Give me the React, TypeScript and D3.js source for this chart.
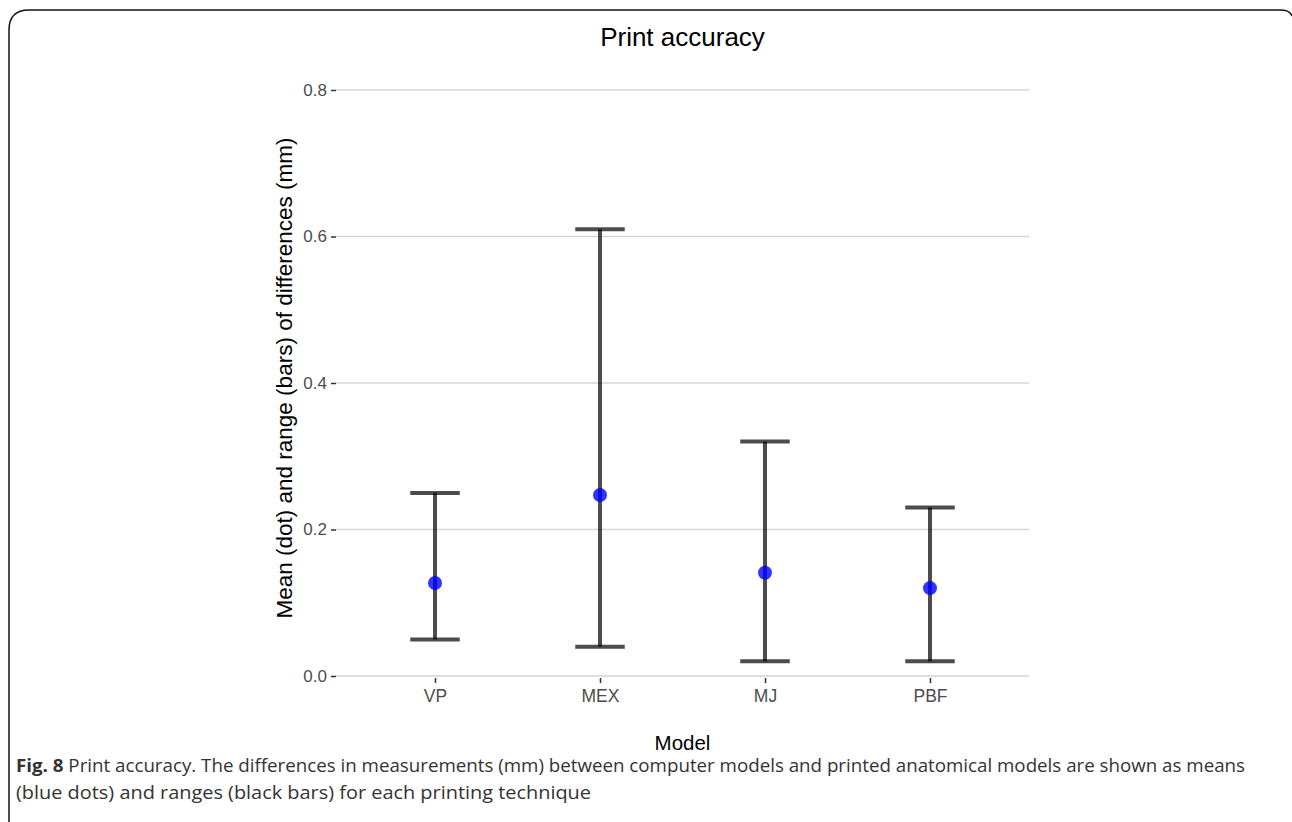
import React, { useEffect, useRef } from 'react';
import * as d3 from 'd3';

const models = ['VP', 'MEX', 'MJ', 'PBF'];
const means = [0.127, 0.247, 0.141, 0.12];
const lows = [0.05, 0.04, 0.02, 0.02];
const highs = [0.25, 0.61, 0.32, 0.23];
const yTicks = [0.0, 0.2, 0.4, 0.6, 0.8];

const W = 1292;
const H = 822;

const App = () => {
  const svgRef = useRef<SVGSVGElement>(null);

  useEffect(() => {
    if (!svgRef.current) return;
    const svg = d3.select(svgRef.current);
    svg.selectAll('*').remove();

    // figure frame (open at the bottom)
    svg.append('path')
      .attr('d', `M9,${H} L9,30 Q9,10 29,10 L1280,10 Q1290,10 1292,16`)
      .attr('fill', 'none')
      .attr('stroke', '#111')
      .attr('stroke-width', 1.5);

    const left = 336;
    const right = 1029;
    const top = 90;
    const bottom = 676;

    // discrete scale, ggplot style expansion of 0.6
    const xi = d3.scaleLinear().domain([0.4, models.length + 0.6]).range([left, right]);
    const x = (m: string) => xi(models.indexOf(m) + 1);
    const y = d3.scaleLinear().domain([0, 0.8]).range([bottom, top]);

    const font = '"Liberation Sans", Arial, Helvetica, sans-serif';

    // grid
    svg.append('g')
      .selectAll('line')
      .data(yTicks)
      .enter()
      .append('line')
      .attr('x1', left)
      .attr('x2', right)
      .attr('y1', (d) => y(d))
      .attr('y2', (d) => y(d))
      .attr('stroke', '#d6d6d6')
      .attr('stroke-width', 1.6);

    // y axis ticks
    const yAxis = d3.axisLeft(y)
      .tickValues(yTicks)
      .tickSize(5)
      .tickPadding(4)
      .tickFormat(d3.format('.1f'));
    const yg = svg.append('g').attr('transform', `translate(${left},0)`).call(yAxis);
    yg.select('.domain').remove();
    yg.attr('font-size', 17).attr('font-family', font);
    yg.selectAll('line').attr('stroke', '#333').attr('stroke-width', 1.5);
    yg.selectAll('text').attr('fill', '#4d4d4d');

    // x axis ticks
    const xAxis = d3.axisBottom(d3.scalePoint().domain(models).range([x(models[0]), x(models[models.length - 1])]))
      .tickSize(5)
      .tickPadding(7);
    const xg = svg.append('g').attr('transform', `translate(0,${bottom + 2})`).call(xAxis);
    xg.select('.domain').remove();
    xg.attr('font-size', 17.5).attr('font-family', font);
    xg.selectAll('line').attr('stroke', '#333').attr('stroke-width', 1.5);
    xg.selectAll('text').attr('fill', '#4d4d4d');

    const capHalf = (xi(1.15) - xi(1));
    const barColor = 'rgba(0,0,0,0.7)';

    const bars = svg.append('g')
      .selectAll('g')
      .data(models)
      .enter()
      .append('g');

    bars.append('line')
      .attr('x1', (d) => x(d))
      .attr('x2', (d) => x(d))
      .attr('y1', (d, i) => y(lows[i]))
      .attr('y2', (d, i) => y(highs[i]))
      .attr('stroke', barColor)
      .attr('stroke-width', 4);

    bars.append('line')
      .attr('x1', (d) => x(d) - capHalf)
      .attr('x2', (d) => x(d) + capHalf)
      .attr('y1', (d, i) => y(highs[i]))
      .attr('y2', (d, i) => y(highs[i]))
      .attr('stroke', barColor)
      .attr('stroke-width', 4);

    bars.append('line')
      .attr('x1', (d) => x(d) - capHalf)
      .attr('x2', (d) => x(d) + capHalf)
      .attr('y1', (d, i) => y(lows[i]))
      .attr('y2', (d, i) => y(lows[i]))
      .attr('stroke', barColor)
      .attr('stroke-width', 4);

    bars.append('circle')
      .attr('cx', (d) => x(d))
      .attr('cy', (d, i) => y(means[i]))
      .attr('r', 7)
      .attr('fill', 'rgba(0,0,255,0.8)');

    // titles
    svg.append('text')
      .attr('x', (left + right) / 2)
      .attr('y', 46)
      .attr('text-anchor', 'middle')
      .attr('font-family', font)
      .attr('font-size', 26)
      .attr('fill', '#000')
      .text('Print accuracy');

    svg.append('text')
      .attr('x', (left + right) / 2)
      .attr('y', 750)
      .attr('text-anchor', 'middle')
      .attr('font-family', font)
      .attr('font-size', 20.5)
      .attr('fill', '#000')
      .text('Model');

    svg.append('text')
      .attr('transform', `translate(292,${(top + bottom) / 2 - 5}) rotate(-90)`)
      .attr('text-anchor', 'middle')
      .attr('font-family', font)
      .attr('font-size', 22.5)
      .attr('fill', '#000')
      .text('Mean (dot) and range (bars) of differences (mm)');

    // caption
    const capFont = '"Open Sans", "Noto Sans", sans-serif';
    const line1 = svg.append('text')
      .attr('x', 16)
      .attr('y', 772)
      .attr('font-family', capFont)
      .attr('font-size', 18.5)
      .attr('fill', '#333')
      .attr('textLength', 1229)
      .attr('lengthAdjust', 'spacingAndGlyphs');
    line1.append('tspan').attr('font-weight', 'bold').text('Fig. 8');
    line1.append('tspan').text(' Print accuracy. The differences in measurements (mm) between computer models and printed anatomical models are shown as means');

    svg.append('text')
      .attr('x', 16)
      .attr('y', 799)
      .attr('font-family', capFont)
      .attr('font-size', 18.5)
      .attr('fill', '#333')
      .attr('textLength', 575)
      .attr('lengthAdjust', 'spacingAndGlyphs')
      .text('(blue dots) and ranges (black bars) for each printing technique');
  }, []);

  return (
    <svg
      ref={svgRef}
      width={W}
      height={H}
      style={{ position: 'absolute', left: 0, top: 0, display: 'block', background: '#fff' }}
    />
  );
};

export default App;
